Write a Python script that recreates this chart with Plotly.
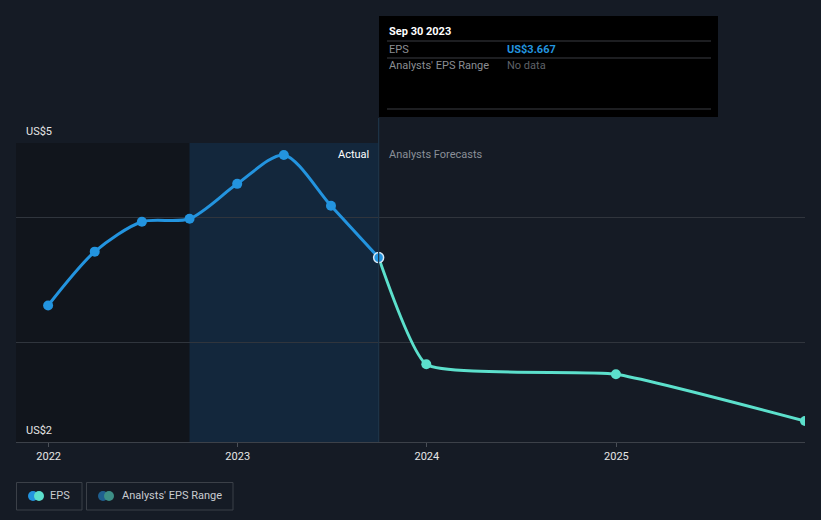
import plotly.graph_objects as go

# ---- data ----
actual_dates = ["2021-12-31", "2022-03-31", "2022-06-30", "2022-09-30",
                "2022-12-31", "2023-03-31", "2023-06-30", "2023-09-30"]
actual_eps = [3.37, 3.91, 4.21, 4.24, 4.59, 4.88, 4.37, 3.85]
forecast_dates = ["2023-09-30", "2023-12-31", "2024-12-31", "2025-12-31"]
forecast_eps = [3.85, 2.78, 2.68, 2.21]
x_tick_vals = ["2022-01-01", "2023-01-01", "2024-01-01", "2025-01-01"]
x_tick_text = ["2022", "2023", "2024", "2025"]
y_grid_vals = [3.0, 4.25, 5.0]
y_label_top = "US$5"
y_label_bottom = "US$2"
tooltip_date = "Sep 30 2023"
tooltip_eps = "US$3.667"

# ---- layout helpers (screen pixel -> paper) ----
W, H = 821, 520
L, R, T, B = 16, 805, 143, 442   # screen pixels of the plot area


def px(x):
    return (x - L) / (R - L)


def py(y):
    return (B - y) / (B - T)


BG = "#151b25"
BLUE = "#2394df"
TEAL = "#5ce0cc"
FONT = "Roboto"
FS = 11

fig = go.Figure()

fig.add_trace(go.Scatter(
    x=actual_dates, y=actual_eps, mode="lines+markers",
    line=dict(color=BLUE, width=3, shape="spline", smoothing=0.8),
    marker=dict(color=BLUE, size=10), showlegend=False, hoverinfo="skip"))

fig.add_trace(go.Scatter(
    x=forecast_dates, y=forecast_eps, mode="lines+markers",
    line=dict(color=TEAL, width=3, shape="spline", smoothing=0.45),
    marker=dict(color=TEAL, size=10), showlegend=False, hoverinfo="skip"))

# highlighted point
fig.add_trace(go.Scatter(
    x=[actual_dates[-1]], y=[actual_eps[-1]], mode="markers",
    marker=dict(color=BLUE, size=10, line=dict(color="#d8e8f5", width=1.5)),
    showlegend=False, hoverinfo="skip"))

shapes = []
shapes.append(dict(type="rect", xref="x", yref="paper", x0="2021-10-30", x1="2022-09-30",
                   y0=0, y1=1, fillcolor="#11151c", line_width=0, layer="below"))
shapes.append(dict(type="rect", xref="x", yref="paper", x0="2022-09-30", x1="2023-09-30",
                   y0=0, y1=1, fillcolor="#13273c", line_width=0, layer="below"))
shapes.append(dict(type="line", xref="x", yref="paper", x0="2023-09-30", x1="2023-09-30",
                   y0=0, y1=py(118), line=dict(color="#1f3548", width=1.2)))
shapes.append(dict(type="rect", xref="paper", yref="paper", x0=px(379), x1=px(718),
                   y0=py(117), y1=py(16), fillcolor="#000000", line_width=0))
for yy in (41, 58, 109):
    shapes.append(dict(type="line", xref="paper", yref="paper", x0=px(387), x1=px(711),
                       y0=py(yy), y1=py(yy), line=dict(color="#3a3d42", width=1)))
shapes.append(dict(type="rect", xref="paper", yref="paper", x0=px(16.5), x1=px(82),
                   y0=py(510), y1=py(482.5), line=dict(color="#3b4048", width=1), fillcolor=BG))
shapes.append(dict(type="rect", xref="paper", yref="paper", x0=px(86.5), x1=px(233),
                   y0=py(510), y1=py(482.5), line=dict(color="#3b4048", width=1), fillcolor=BG))
for cx, col in ((33, BLUE), (39, TEAL), (103, "#1f5f8f"), (109, "#3d8f86")):
    shapes.append(dict(type="circle", xref="paper", yref="paper",
                       x0=px(cx - 5), x1=px(cx + 5), y0=py(501), y1=py(491),
                       fillcolor=col, line_width=0))

annotations = [
    dict(text=y_label_top, x=px(24), y=py(131), xanchor="left", yanchor="middle",
         font=dict(color="#e6e6e6", size=FS, family=FONT)),
    dict(text=y_label_bottom, x=px(24), y=py(430), xanchor="left", yanchor="middle",
         font=dict(color="#e6e6e6", size=FS, family=FONT)),
    dict(text="Actual", x=px(371), y=py(154), xanchor="right", yanchor="middle",
         font=dict(color="#ffffff", size=FS, family=FONT)),
    dict(text="Analysts Forecasts", x=px(387), y=py(154), xanchor="left", yanchor="middle",
         font=dict(color="#8a8f98", size=FS, family=FONT)),
    dict(text="<b>" + tooltip_date + "</b>", x=px(387), y=py(31), xanchor="left", yanchor="middle",
         font=dict(color="#ffffff", size=FS, family=FONT)),
    dict(text="EPS", x=px(387), y=py(49), xanchor="left", yanchor="middle",
         font=dict(color="#8b8e93", size=FS, family=FONT)),
    dict(text="<b>" + tooltip_eps + "</b>", x=px(505), y=py(49), xanchor="left", yanchor="middle",
         font=dict(color=BLUE, size=FS, family=FONT)),
    dict(text="Analysts' EPS Range", x=px(387), y=py(66), xanchor="left", yanchor="middle",
         font=dict(color="#8b8e93", size=FS, family=FONT)),
    dict(text="No data", x=px(505), y=py(66), xanchor="left", yanchor="middle",
         font=dict(color="#5f6268", size=FS, family=FONT)),
    dict(text="EPS", x=px(48), y=py(496), xanchor="left", yanchor="middle",
         font=dict(color="#c9ccd1", size=FS, family=FONT)),
    dict(text="Analysts' EPS Range", x=px(120), y=py(496), xanchor="left", yanchor="middle",
         font=dict(color="#c9ccd1", size=FS, family=FONT)),
]
for a in annotations:
    a.update(xref="paper", yref="paper", showarrow=False)

fig.update_layout(
    width=W, height=H,
    margin=dict(l=L, r=W - R, t=T, b=H - B),
    paper_bgcolor=BG, plot_bgcolor=BG,
    shapes=shapes, annotations=annotations,
    font=dict(family=FONT, color="#e6e6e6", size=FS),
    xaxis=dict(type="date", range=["2021-10-30", "2025-12-31"],
               tickvals=x_tick_vals, ticktext=x_tick_text,
               showgrid=False, zeroline=False,
               showline=True, linecolor="#3c4149", linewidth=1,
               ticks="outside", ticklen=4, tickcolor="#4a4f57",
               tickfont=dict(color="#e6e6e6", size=FS, family=FONT)),
    yaxis=dict(range=[2, 5], tickvals=y_grid_vals, showticklabels=False,
               showgrid=True, gridcolor="#30353d", gridwidth=1,
               zeroline=False, showline=False, fixedrange=True),
    hovermode=False,
)

fig.write_html(
    "out.html",
    config={"displayModeBar": False},
    post_script="document.body.style.margin='0';document.body.style.overflow='hidden';"
                "document.body.style.background='" + BG + "';",
)
